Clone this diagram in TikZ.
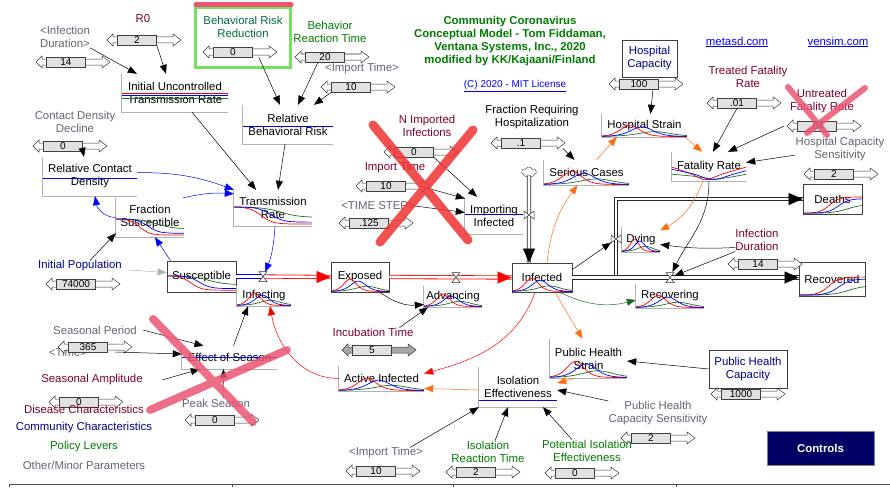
\documentclass[tikz,border=0pt]{standalone}
\usepackage{fontspec}
\setmainfont{Liberation Sans}
\usetikzlibrary{arrows.meta,shapes.symbols}

\definecolor{vred}{RGB}{128,0,40}
\definecolor{vnavy}{RGB}{0,0,140}
\definecolor{vgreen}{RGB}{0,125,0}
\definecolor{vteal}{RGB}{0,110,60}
\definecolor{vgray}{RGB}{100,100,115}
\definecolor{vorange}{RGB}{255,110,20}
\definecolor{vlink}{RGB}{0,0,255}
\definecolor{vdkgreen}{RGB}{30,110,40}
\definecolor{xred}{RGB}{240,50,50}
\definecolor{xpink}{RGB}{235,85,115}
\definecolor{hlgreen}{RGB}{115,225,95}
\definecolor{ctrlblue}{RGB}{0,0,100}
\definecolor{sgray}{RGB}{225,225,225}

\newcommand{\sdslider}[5][white]{%
  \begin{scope}[shift={(#3,#4)}]
    \draw[sliderarrow,fill=#1] (-30,0) -- (-24,-6) -- (-24,-3) -- (36,-3) -- (36,-6)
      -- (44,0) -- (36,6) -- (36,3) -- (-24,3) -- (-24,6) -- cycle;
  \end{scope}
  \node[sliderbox] (#2) at (#3,#4) {#5};}
\newcommand{\sdaux}[6]{%
  \node[auxnode,minimum width=#4,minimum height=#5] (#1) at (#2,#3) {#6};
  \draw[auxframe] (#1.north west) |- (#1.south east);}
\newcommand{\sdflat}[4]{\draw[spark,#4] (#1,#3) -- ++(#2,0);}
\newcommand{\sdbells}[4]{%
  \begin{scope}[shift={(#1,#2)},xscale=#3,yscale=-#4]
    \draw[spark,vdkgreen] plot[domain=0:1,samples=40] (\x,{1.6/(2+exp((\x-0.62)/0.13)+exp(-(\x-0.62)/0.13))});
    \draw[spark,red] plot[domain=0:1,samples=40] (\x,{3.8/(2+exp((\x-0.33)/0.075)+exp(-(\x-0.33)/0.075))});
    \draw[spark,blue] plot[domain=0:1,samples=40] (\x,{3.2/(2+exp((\x-0.47)/0.09)+exp(-(\x-0.47)/0.09))});
  \end{scope}}
\newcommand{\sddecline}[4]{%
  \begin{scope}[shift={(#1,#2)},xscale=#3,yscale=-#4]
    \draw[spark,vdkgreen] plot[domain=0:1,samples=40] (\x,{0.95-0.55/(1+exp(-(\x-0.6)/0.12))});
    \draw[spark,red] plot[domain=0:1,samples=40] (\x,{0.95-0.9/(1+exp(-(\x-0.35)/0.075))});
    \draw[spark,blue] plot[domain=0:1,samples=40] (\x,{0.95-0.8/(1+exp(-(\x-0.47)/0.08))});
  \end{scope}}
\newcommand{\sdrise}[4]{%
  \begin{scope}[shift={(#1,#2)},xscale=#3,yscale=-#4]
    \draw[spark,vdkgreen] plot[domain=0:1,samples=40] (\x,{0.02+0.5/(1+exp(-(\x-0.75)/0.12))});
    \draw[spark,red] plot[domain=0:1,samples=40] (\x,{0.02+0.95/(1+exp(-(\x-0.45)/0.08))});
    \draw[spark,blue] plot[domain=0:1,samples=40] (\x,{0.02+0.85/(1+exp(-(\x-0.6)/0.09))});
  \end{scope}}
\newcommand{\sdushape}[4]{%
  \begin{scope}[shift={(#1,#2)},xscale=#3,yscale=-#4]
    \draw[spark,vdkgreen] plot[smooth] coordinates {(0,0.45) (0.3,0.3) (0.55,0.1) (0.8,0.25) (1,0.45)};
    \draw[spark,red] plot[smooth] coordinates {(0,0.95) (0.25,0.5) (0.45,0.05) (0.7,0.5) (1,0.95)};
    \draw[spark,blue] plot[smooth] coordinates {(0,0.8) (0.3,0.45) (0.55,0.05) (0.8,0.4) (1,0.7)};
  \end{scope}}
\newcommand{\sdvalve}[2][0]{%
  \begin{scope}[shift={(#2)},rotate=#1]
    \draw[valveshape] (-4,-5) -- (4,-5) -- (-4,5) -- (4,5) -- cycle;
  \end{scope}}

\begin{document}
\begin{tikzpicture}[x=1pt,y=-1pt,
    every node/.style={font=\fontsize{11.4}{13}\selectfont},
    lbl/.style={align=center,inner sep=0pt},
    auxnode/.style={align=center,inner sep=0pt},
    auxframe/.style={draw=gray!60,line width=0.7pt},
    levelnode/.style={draw=black!75,line width=0.8pt,align=center,inner sep=0pt},
    sliderbox/.style={draw=black!75,fill=sgray,line width=0.6pt,minimum width=39pt,
      minimum height=10pt,inner sep=0pt,font=\fontsize{10}{10}\selectfont},
    sliderarrow/.style={draw=black!80,line width=0.5pt},
    spark/.style={line width=0.7pt},
    pipe/.style={double,double distance=2.6pt,line width=0.8pt},
    flowtip/.style={-{Triangle[length=14pt,width=12pt]},line width=0.5pt},
    valveshape/.style={draw=black!80,fill=white,line width=0.5pt},
    link/.style={-{Triangle[length=9pt,width=7pt]},line width=0.5pt,black},
    crossx/.style={line cap=round,opacity=0.85}]
\useasboundingbox (0,0) rectangle (890,487);

\draw[hlgreen,line width=3pt] (195,8) rectangle (290,67);
\draw[xpink,line width=5pt,line cap=round] (196,5) -- (291,5);

\node[lbl,font=\fontsize{11.4}{13}\selectfont\bfseries,text=vgreen] (title) at (510,41.5)
  {Community Coronavirus\\Conceptual Model - Tom Fiddaman,\\Ventana Systems, Inc., 2020\\modified by KK/Kajaani/Finland};
\node[lbl,text=blue,font=\fontsize{10}{12}\selectfont] (license) at (515,86) {\underline{(C) 2020 - MIT License}};
\node[lbl,text=blue] (metasd) at (737,42) {\underline{metasd.com}};
\node[lbl,text=blue] (vensim) at (838,42) {\underline{vensim.com}};

\node[levelnode,minimum width=55,minimum height=37,text=vnavy] (hcap) at (649.5,58.5) {Hospital\\Capacity};
\node[levelnode,minimum width=78,minimum height=38,text=vnavy] (phcap) at (748,369) {Public Health\\Capacity};
\node[draw=gray,fill=ctrlblue,text=white,font=\fontsize{11.4}{13}\selectfont\bfseries,
  minimum width=107,minimum height=34] (controls) at (820.5,448) {Controls};

\node[levelnode,minimum width=69,minimum height=31] (susceptible) at (201.5,276.5) {Susceptible};
\sddecline{167}{291}{69}{16}
\node[levelnode,minimum width=58,minimum height=30] (exposed) at (360,277) {Exposed};
\sdbells{331}{291.5}{58}{13}
\node[levelnode,minimum width=60,minimum height=29] (infected) at (542,277.5) {Infected};
\sdbells{512}{291.5}{60}{14}
\node[levelnode,minimum width=59,minimum height=30] (deaths) at (832.5,199) {Deaths};
\sdrise{803}{213.5}{59}{17}
\node[levelnode,minimum width=66,minimum height=34] (recovered) at (832,279) {Recovered};
\sdrise{799}{295.5}{66}{19}

\sdaux{iutr}{175}{93}{106}{38}{Initial Uncontrolled\\Transmission Rate}
\sdflat{122}{106}{93}{red} \sdflat{122}{106}{95.5}{blue} \sdflat{122}{106}{98}{vdkgreen}
\sdaux{rbr}{288}{124.5}{90}{39}{Relative\\Behavioral Risk}
\sdflat{243}{90}{126}{blue}
\sdaux{rcd}{90}{176.5}{94}{39}{Relative Contact\\Density}
\sdflat{43}{94}{178}{blue}
\sdaux{fsus}{150}{217.5}{68}{39}{Fraction\\Susceptible}
\sddecline{116}{236}{68}{18}
\sdaux{trate}{273}{208}{78}{36}{Transmission\\Rate}
\sddecline{234}{225}{78}{19}
\sdaux{infecting}{264}{296}{54}{20}{Infecting}
\sdbells{237}{305.5}{54}{13}
\sdaux{advancing}{453}{296.5}{58}{21}{Advancing}
\sdbells{424}{306.5}{58}{13}
\sdaux{impinf}{494}{215.5}{58}{37}{Importing\\Infected}
\sdflat{465}{58}{214}{blue}
\sdaux{serious}{586.5}{172.5}{85}{25}{Serious Cases}
\sdbells{544}{184.5}{85}{14}
\sdaux{dying}{641}{239.5}{38}{25}{Dying}
\sdbells{622}{251.5}{38}{13}
\sdaux{recovering}{670}{296}{68}{24}{Recovering}
\sdbells{636}{307.5}{68}{13}
\sdaux{hstrain}{644.5}{125.5}{85}{23}{Hospital Strain}
\sdbells{602}{136.5}{85}{12}
\sdaux{fatality}{709}{166.5}{74}{29}{Fatality Rate}
\sdushape{672}{180.5}{74}{14}
\sdaux{eseason}{229.5}{357.5}{95}{23}{Effect of Season}
\sdflat{182}{95}{357}{blue}
\sdaux{active}{381.5}{378.5}{85}{25}{Active Infected}
\sdbells{339}{390.5}{85}{13}
\sdaux{isoeff}{518}{387}{78}{40}{Isolation\\Effectiveness}
\sdflat{479}{78}{400}{blue}
\sdaux{phstrain}{588.5}{358.5}{77}{39}{Public Health\\Strain}
\sdbells{550}{377.5}{77}{17}

\coordinate (vinfect) at (263,276.5);
\coordinate (vadv) at (456,277.5);
\coordinate (vdying) at (616,239);
\coordinate (vrecov) at (670,277.5);
\coordinate (vimp) at (529,215);
\node[cloud,draw=black!80,cloud puffs=7,aspect=1.4,minimum width=15pt,minimum height=10pt,inner sep=0pt] (source) at (529,172) {};
\coordinate (impend) at (source |- infected.north);
\coordinate (recend) at (infected.east -| recovered.west);

\draw[pipe,blue] (susceptible.east) -- (vinfect);
\draw[pipe,red] (vinfect) -- (exposed.west);
\draw[pipe,red] (exposed.east) -- (infected.west);
\draw[pipe,black!85] (source.south) -- (impend);
\draw[pipe,black!85] (infected.east) -| (vdying) |- (deaths.west);
\draw[pipe,black!85] (infected.east) -- (recend);
\draw[flowtip,red] ([xshift=-14pt]exposed.west) -- (exposed.west);
\draw[flowtip,red] ([xshift=-14pt]infected.west) -- (infected.west);
\draw[flowtip,black] ([yshift=14pt]impend) -- (impend);
\draw[flowtip,black] ([xshift=-14pt]deaths.west) -- (deaths.west);
\draw[flowtip,black] ([xshift=-14pt]recend) -- (recend);
\sdvalve{vinfect}
\sdvalve{vadv}
\sdvalve[90]{vimp}
\sdvalve[90]{vdying}
\sdvalve{vrecov}

\node[lbl,text=vred] (r0) at (143,19) {R0};
\node[lbl,text=vgray] (infdur1) at (65,37) {<Infection\\Duration>};
\node[lbl,text=vteal] (brr) at (243,27) {Behavioral Risk\\Reduction};
\node[lbl,text=vgreen] (brt) at (330,31.5) {Behavior\\Reaction Time};
\node[lbl,text=vgray] (imp1) at (362,69) {<Import Time>};
\node[lbl,text=vred] (nimp) at (427,126) {N Imported\\Infections};
\node[lbl,text=vred] (imptime) at (395,168) {Import Time};
\node[lbl,text=vgray] (tstep) at (378,206) {<TIME STEP>};
\node[lbl] (frh) at (532,117) {Fraction Requiring\\Hospitalization};
\node[lbl,text=vred] (tfr) at (748,77) {Treated Fatality\\Rate};
\node[lbl,text=vred] (ufr) at (822,101) {Untreated\\Fatality Rate};
\node[lbl,text=vgray] (hcs) at (840,149) {Hospital Capacity\\Sensitivity};
\node[lbl,text=vred] (infdur2) at (757,239.5) {Infection\\Duration};
\node[lbl,text=vgray] (cdd) at (75,121.5) {Contact Density\\Decline};
\node[lbl,text=vnavy] (pop) at (80,266) {Initial Population};
\node[lbl,text=vred] (inc) at (373,332) {Incubation Time};
\node[lbl,text=vgray] (imp2) at (386,453) {<Import Time>};
\node[lbl,text=vgreen] (irt) at (488,451.5) {Isolation\\Reaction Time};
\node[lbl,text=vgreen] (pie) at (587,450.5) {Potential Isolation\\Effectiveness};
\node[lbl,text=vgray] (phcs) at (658,413) {Public Health\\Capacity Sensitivity};
\node[lbl,text=vgray] (sper) at (95,330) {Seasonal Period};
\node[lbl,text=vgray] (time) at (68,352) {<Time>};
\node[lbl,text=vred] (samp) at (92,380) {Seasonal Amplitude};
\node[lbl,text=vgray] (peak) at (216,403) {Peak Season};

\sdslider{r0val}{137}{40}{2}
\sdslider{infdur1val}{66}{62}{14}
\sdslider{brrval}{233}{52}{0}
\sdslider{brtval}{325}{57}{20}
\sdslider{imp1val}{351}{87}{10}
\sdslider{nimpval}{414}{152}{0}
\sdslider{imptimeval}{386}{186}{10}
\sdslider{tstepval}{369}{223}{.125}
\sdslider{frhval}{521}{143}{.1}
\sdslider{hcapval}{639}{84}{100}
\sdslider{tfrval}{737}{103}{.01}
\sdslider{ufrval}{817}{126}{.04}
\sdslider{hcsval}{834}{174}{2}
\sdslider{infdur2val}{758}{264}{14}
\sdslider{cddval}{63}{146}{0}
\sdslider{popval}{76}{284}{74000}
\sdslider[gray!70]{incval}{372}{350}{5}
\sdslider{imp2val}{376}{471}{10}
\sdslider{irtval}{476}{472}{2}
\sdslider{pieval}{575}{473}{0}
\sdslider{phcsval}{651}{438}{2}
\sdslider{sperval}{88}{347}{365}
\sdslider{sampval}{79}{402}{0}
\sdslider{peakval}{215}{420}{0}
\sdslider{phcapval}{741}{394}{1000}

\draw[link] (infdur1.south east) -- ([xshift=15pt]iutr.north west);
\draw[link] (r0val.south east) -- ([xshift=-9pt]iutr.north);
\draw[link] ([xshift=17pt]iutr.south) -- ([xshift=-17pt]trate.north);
\draw[link] ([xshift=-3pt]rbr.south) -- ([xshift=5pt]trate.north);
\draw[link] ([xshift=6pt]brrval.south east) -- ([xshift=-8pt]rbr.north);
\draw[link] ([xshift=-7pt]brtval.south) -- ([xshift=10pt]rbr.north);
\draw[link] (imp1val.south west) -- ([xshift=26pt]rbr.north);
\draw[link] ([xshift=22pt]frhval.south east) -- ([xshift=-12pt]serious.north);
\draw[link] ([xshift=14pt]hcapval.south) -- ([xshift=6pt]hstrain.north);
\draw[link] (tfrval.south) -- ([xshift=4pt]fatality.north);
\draw[link] ([xshift=-13pt]ufrval.west) -- ([xshift=19pt]fatality.north);
\draw[link] ([yshift=-6pt]hcs.west) -- ([yshift=4pt]fatality.east);
\draw[link,shorten >=6pt] (fatality.south) to[out=-90,in=65] (vrecov);
\draw[link] ([yshift=-8pt]infdur2.west) to[bend left=5] ([yshift=-5pt]dying.east);
\draw[link,shorten >=5pt] ([yshift=-12pt]infdur2.west) -- (vrecov);
\draw[link,shorten >=6pt] ([yshift=8pt]infected.east) -- (vdying);
\draw[link] ([xshift=10pt]pop.north) -- ([yshift=4pt]fsus.south west);
\draw[link,gray!60] ([xshift=6pt,yshift=-4pt]pop.east) -- ([yshift=4pt]susceptible.west);
\draw[link] (cddval.south east) -- ([xshift=-6pt]rcd.north);
\draw[link] ([xshift=20pt]exposed.south) to[bend right=20] ([yshift=-8pt]advancing.west);
\draw[link] ([xshift=-14pt]inc.north east) -- ([xshift=-25pt]advancing.south);
\draw[link] ([xshift=14pt]imptimeval.east) -- ([yshift=17pt]impinf.west);
\draw[link] (tstep.east) -- ([yshift=3pt]impinf.west);
\draw[link] (nimpval.south east) -- ([xshift=-17pt]impinf.north);
\draw[link] ([xshift=-13pt]imp2.north east) -- (isoeff.south west);
\draw[link] ([xshift=7pt]irt.north) -- ([xshift=-10pt]isoeff.south);
\draw[link] ([xshift=-15pt]pie.north) -- ([xshift=25pt]isoeff.south);
\draw[link] (phcs.north west) -- ([yshift=-3pt]isoeff.east);
\draw[link] (phcap.west) -- ([yshift=-2.5pt]phstrain.east);
\draw[link] ([xshift=6pt]sper.east) -- ([xshift=-26pt]eseason.north);
\draw[link] ([xshift=28pt]time.east) -- ([yshift=3.5pt]eseason.west);
\draw[link] ([xshift=19pt]samp.east) -- ([xshift=18pt]eseason.south west);
\draw[link] ([xshift=7pt]peak.north) -- ([xshift=-6pt]eseason.south);
\draw[link] ([xshift=4pt]eseason.north) -- ([xshift=-16pt]infecting.south);

\draw[link,red] (active.west) to[out=180,in=-80] ([xshift=6pt]infecting.south);
\draw[link,red] ([xshift=-7pt]infected.south) to[out=-110,in=15] ([yshift=5pt]active.east);

\draw[link,vorange] ([yshift=-3pt]isoeff.west) -- ([yshift=-10pt]active.east);
\draw[link,vorange] ([xshift=5pt]infected.north) to[bend left=15] ([xshift=-9pt]serious.south);
\draw[link,vorange] ([xshift=10pt]serious.north) -- ([xshift=15pt]hstrain.south west);
\draw[link,vorange] ([xshift=13pt]infected.south) -- ([xshift=-6pt]phstrain.north);
\draw[link,vorange] ([xshift=-13pt]phstrain.south) -- ([yshift=4pt]isoeff.east);
\draw[link,vorange] ([xshift=-2pt]hstrain.south east) -- ([xshift=-7pt]fatality.north);
\draw[link,vorange] ([xshift=-6pt]fatality.south) to[bend left=20] ([yshift=9pt]dying.east);

\draw[link,vdkgreen] ([xshift=18pt]infected.south) to[bend right=20] ([yshift=-4pt]recovering.west);

\draw[link,vlink] (fsus.west) to[out=180,in=-80] ([xshift=5pt]rcd.south);
\draw[link,vlink] ([xshift=-31pt]susceptible.north) -- ([xshift=5pt]fsus.south);
\draw[link,vlink] ([yshift=4pt]rcd.east) to[bend left=10] (trate.north west);
\draw[link,vlink] ([xshift=-1pt]fsus.north east) to[bend left=8] ([yshift=-4pt]trate.north west);
\draw[link,vlink,shorten >=5pt] ([xshift=2pt]trate.south) to[bend left=10] (vinfect);

\node[lbl,text=vred] (legdis) at (84,409) {Disease Characteristics};
\node[lbl,text=vnavy] (legcom) at (84,428) {Community Characteristics};
\node[lbl,text=vgreen] (legpol) at (84,447) {Policy Levers};
\node[lbl,text=vgray] (legoth) at (84,465) {Other/Minor Parameters};

\draw[black!70,line width=0.6pt] (9,487) -- (9,484) -- (890,484);
\foreach \t in {232,453,676} \draw[black!70,line width=0.6pt] (\t,484) -- (\t,487);

\draw[crossx,xred,line width=9pt] (373,125) -- (468,240) (473,130) -- (380,242);
\draw[crossx,xpink,line width=6pt] (788,87) -- (827,135) (865,88) -- (807,133);
\draw[crossx,xpink,line width=8pt] (153,319) -- (253,422) (150,410) -- (287,350);
\end{tikzpicture}
\end{document}
